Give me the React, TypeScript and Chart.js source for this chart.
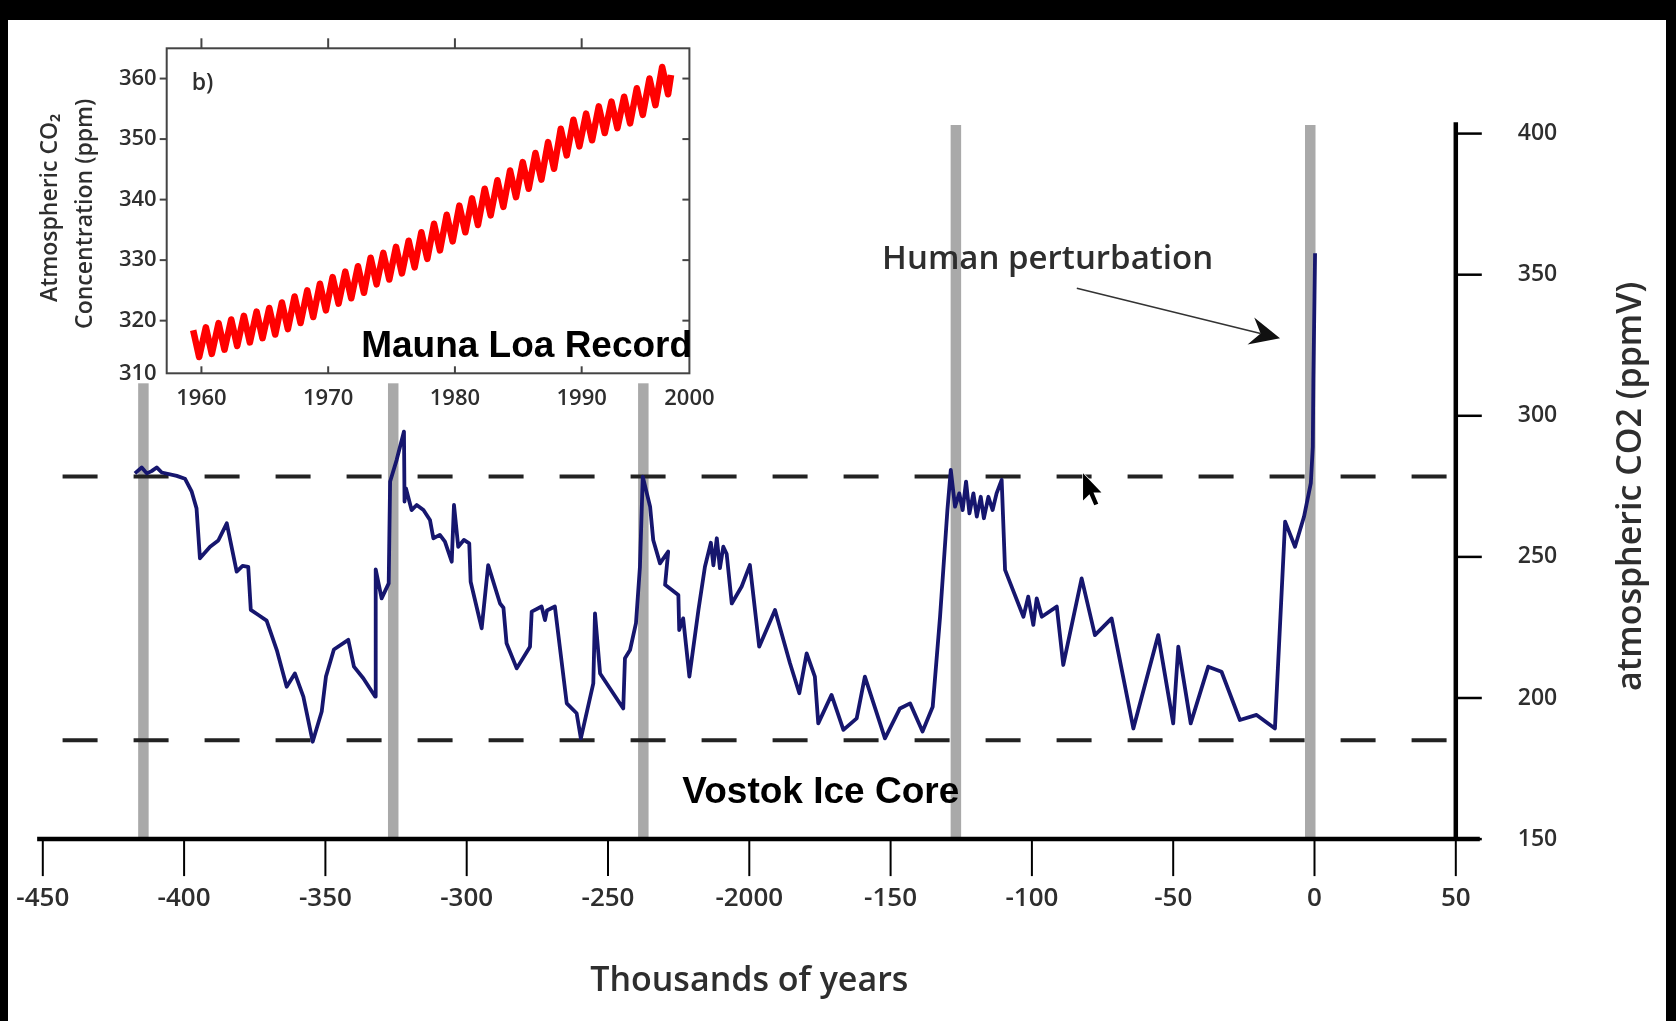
import React, { useEffect, useRef } from 'react';
import { Chart, registerables } from 'chart.js';

Chart.register(...registerables);

const FONT = '"Open Sans", "DejaVu Sans", sans-serif';
const BOLD_FONT = '"Liberation Sans", Arial, sans-serif';

// ---- Vostok ice core record: age (thousands of years) and CO2 (ppmV) ----
const vostokAgeKyr = [
  -417.4, -415.0, -413.2, -411.5, -409.7, -407.9, -402.6, -399.7, -397.3, -395.6,
  -394.4, -390.8, -387.9, -384.9, -381.4, -379.3, -377.3, -376.4, -373.7, -370.8,
  -367.2, -363.7, -360.8, -357.8, -354.5, -351.3, -349.8, -347.0, -341.9, -339.9,
  -336.6, -332.4, -332.2, -330.1, -327.6, -327.1, -324.8, -322.2, -322.0, -321.5,
  -319.5, -317.7, -315.3, -313.0, -311.8, -309.5, -307.7, -305.3, -304.5, -303.0,
  -301.0, -299.1, -298.6, -294.7, -292.4, -288.2, -287.0, -285.9, -282.3, -277.6,
  -277.0, -273.5, -272.3, -271.6, -268.8, -264.6, -261.1, -259.6, -255.2, -254.6,
  -252.8, -244.6, -244.0, -242.2, -240.1, -238.7, -237.7, -235.1, -234.0, -231.6,
  -228.7, -229.8, -225.1, -224.8, -223.4, -221.2, -218.0, -215.7, -213.6, -212.7,
  -211.5, -210.4, -209.2, -208.0, -206.2, -202.7, -199.8, -196.5, -190.9, -185.6,
  -182.3, -179.7, -176.8, -175.6, -170.9, -166.7, -162.0, -159.1, -152.0, -146.7,
  -143.1, -138.7, -135.1, -132.5, -129.9, -128.7, -127.2, -125.7, -124.5, -123.3,
  -122.1, -120.7, -119.5, -118.1, -117.0, -115.4, -113.9, -112.5, -110.7, -109.5,
  -103.0, -101.3, -99.5, -98.3, -96.5, -91.2, -88.9, -82.4, -77.7, -71.8,
  -64.1, -55.3, -50.0, -48.2, -43.8, -37.6, -32.9, -26.4, -20.5, -14.0,
  -10.4, -6.9, -3.7, -1.3, -0.6, -0.4, 0.0, 0.2,
];
const vostokCO2 = [
  279.6, 281.7, 279.6, 280.4, 281.7, 279.9, 278.7, 277.7, 273.1, 267.2,
  249.5, 253.6, 255.8, 261.9, 244.8, 246.8, 246.5, 231.2, 229.4, 227.4,
  217.0, 204.0, 208.7, 200.5, 184.5, 195.2, 207.6, 217.2, 220.6, 211.1,
  207.0, 200.5, 245.6, 235.3, 240.6, 276.7, 284.3, 294.4, 269.6, 274.3,
  266.6, 268.4, 266.6, 263.1, 256.6, 257.8, 255.4, 248.3, 268.4, 253.6,
  256.0, 254.8, 241.2, 224.7, 247.1, 233.5, 232.0, 219.4, 210.5, 218.2,
  230.6, 232.4, 227.6, 231.0, 232.4, 198.1, 194.6, 185.7, 205.2, 230.0,
  208.7, 196.3, 214.1, 217.0, 226.5, 246.5, 278.4, 267.8, 256.0, 247.7,
  251.9, 240.1, 236.5, 224.1, 228.2, 207.6, 231.2, 246.5, 255.0, 247.0,
  256.6, 246.0, 253.6, 251.0, 233.5, 239.5, 247.1, 218.2, 231.2, 212.3,
  201.7, 215.8, 207.6, 191.0, 201.1, 188.7, 192.8, 207.6, 185.7, 196.3,
  198.1, 188.1, 196.9, 228.8, 266.6, 280.8, 267.8, 272.5, 266.6, 276.7,
  265.4, 272.5, 264.3, 271.3, 263.7, 271.3, 266.6, 272.5, 277.3, 245.4,
  228.8, 235.9, 225.9, 235.3, 228.8, 232.4, 211.7, 242.4, 222.3, 228.2,
  189.2, 222.3, 191.0, 218.2, 191.0, 211.1, 209.3, 192.2, 194.0, 189.2,
  262.5, 253.6, 264.3, 276.1, 289.1, 312.7, 342.2, 357.6,
];

// Grey bars (interglacial peaks), thousands of years
const terminationAgeKyr = [-414.4, -326.0, -237.5, -126.9, -1.5];
const barRange = [150, 403];

// Dashed reference levels (ppmV) and their extent (kyr)
const dashedLevels = [278.5, 185];
const dashedExtent = [-443, 50];

// Main axes
const xTickValues = [-450, -400, -350, -300, -250, -200, -150, -100, -50, 0, 50];
const xTickLabels = ['-450', '-400', '-350', '-300', '-250', '-2000', '-150', '-100', '-50', '0', '50'];
const yTickValues = [150, 200, 250, 300, 350, 400];

// ---- Mauna Loa inset: seasonal highs and lows per year (ppm) ----
const mlYears = [
  1959, 1960, 1961, 1962, 1963, 1964, 1965, 1966, 1967, 1968,
  1969, 1970, 1971, 1972, 1973, 1974, 1975, 1976, 1977, 1978,
  1979, 1980, 1981, 1982, 1983, 1984, 1985, 1986, 1987, 1988,
  1989, 1990, 1991, 1992, 1993, 1994, 1995, 1996,
];
const mlPeaks = [
  318.4, 318.9, 319.6, 320.2, 320.8, 321.5, 322.1, 323.0, 324.0, 325.0,
  326.1, 327.2, 328.1, 329.0, 330.4, 331.2, 332.2, 333.2, 334.6, 336.0,
  337.5, 339.0, 340.2, 341.8, 343.2, 344.8, 346.2, 347.7, 349.5, 351.7,
  353.2, 354.2, 355.4, 356.2, 357.0, 358.4, 360.0, 361.9,
];
const mlTroughs = [
  314.0, 314.5, 315.2, 315.8, 316.4, 317.1, 317.7, 318.6, 319.6, 320.6,
  321.7, 322.8, 323.7, 324.6, 326.0, 326.8, 327.8, 328.8, 330.2, 331.6,
  333.1, 334.6, 335.8, 337.4, 338.8, 340.4, 341.8, 343.3, 345.1, 347.3,
  348.8, 349.8, 351.0, 351.8, 352.6, 354.0, 355.6, 357.4,
];
const mlLast = [1997.05, 360.6];

const insetXRange = [1957.26, 1998.5];
const insetYRange = [311.3, 365];
const insetXTicks = [1960, 1970, 1980, 1990];
const insetXLabelValues = [1960, 1970, 1980, 1990, 1998.5];
const insetXLabels = ['1960', '1970', '1980', '1990', '2000'];
const insetYTicks = [320, 330, 340, 350, 360];
const insetYLabelValues = [311.3, 320, 330, 340, 350, 360];
const insetYLabels = ['310', '320', '330', '340', '350', '360'];

// Annotation anchors in data units
const humanLabelAt = [-153, 355.2];
const humanArrowFrom = [-84.1, 345.2];
const humanArrowTo = [-12.2, 327.5];
const vostokLabelAt = [-223.7, 166.3];
const cursorAt = [-81.9, 279.6];
const maunaLabelAt = [1972.6, 315.6];

function seg(ctx: CanvasRenderingContext2D, x1: number, y1: number, x2: number, y2: number) {
  ctx.beginPath();
  ctx.moveTo(x1, y1);
  ctx.lineTo(x2, y2);
  ctx.stroke();
}

const TEXT = '#2e2e2e';

const mainDecor = {
  id: 'mainDecor',
  afterDraw(chart: any) {
    const { ctx, scales } = chart;
    const X = (v: number) => scales.x.getPixelForValue(v);
    const Y = (v: number) => scales.y.getPixelForValue(v);
    const y0 = Y(150);
    ctx.save();
    ctx.lineCap = 'butt';
    ctx.strokeStyle = '#000';
    // x axis
    ctx.lineWidth = 4.5;
    seg(ctx, X(-452), y0, X(58.5), y0);
    ctx.lineWidth = 2;
    xTickValues.forEach((v) => seg(ctx, X(v), y0, X(v), y0 + 37));
    ctx.fillStyle = TEXT;
    ctx.font = `600 26px ${FONT}`;
    ctx.textAlign = 'center';
    ctx.textBaseline = 'middle';
    xTickValues.forEach((v, i) => ctx.fillText(xTickLabels[i], X(v), y0 + 59));
    // y axis at x = 50
    const ax = X(50);
    ctx.lineWidth = 4.5;
    seg(ctx, ax, y0 + 2, ax, Y(404));
    ctx.lineWidth = 2.5;
    yTickValues.forEach((v) => seg(ctx, ax, Y(v), ax + 26, Y(v)));
    ctx.font = `600 23px ${FONT}`;
    ctx.textAlign = 'left';
    yTickValues.forEach((v) => ctx.fillText(String(v), ax + 62, Y(v)));
    // axis titles
    ctx.font = `600 34px ${FONT}`;
    ctx.textAlign = 'center';
    ctx.fillText('Thousands of years', (X(-450) + X(50)) / 2, y0 + 142);
    ctx.save();
    ctx.translate(ax + 176, (Y(150) + Y(400)) / 2);
    ctx.rotate(-Math.PI / 2);
    ctx.fillText('atmospheric CO2 (ppmV)', 0, 0);
    ctx.restore();
    // Human perturbation annotation
    ctx.font = `600 33px ${FONT}`;
    ctx.textAlign = 'left';
    ctx.fillText('Human perturbation', X(humanLabelAt[0]), Y(humanLabelAt[1]));
    const sx = X(humanArrowFrom[0]), sy = Y(humanArrowFrom[1]);
    const tx = X(humanArrowTo[0]), ty = Y(humanArrowTo[1]);
    const len = Math.hypot(tx - sx, ty - sy);
    const ux = (tx - sx) / len, uy = (ty - sy) / len;
    const nx = -uy, ny = ux;
    ctx.strokeStyle = '#333';
    ctx.lineWidth = 1.6;
    seg(ctx, sx, sy, tx - ux * 20, ty - uy * 20);
    ctx.fillStyle = '#111';
    ctx.beginPath();
    ctx.moveTo(tx, ty);
    ctx.lineTo(tx - ux * 30 + nx * 14, ty - uy * 30 + ny * 14);
    ctx.lineTo(tx - ux * 20, ty - uy * 20);
    ctx.lineTo(tx - ux * 30 - nx * 14, ty - uy * 30 - ny * 14);
    ctx.closePath();
    ctx.fill();
    // Vostok label
    ctx.font = `bold 37px ${BOLD_FONT}`;
    ctx.fillStyle = '#000';
    ctx.fillText('Vostok Ice Core', X(vostokLabelAt[0]), Y(vostokLabelAt[1]));
    // mouse pointer (present in the source screenshot)
    const cx = X(cursorAt[0]), cy = Y(cursorAt[1]);
    const s = 1.6;
    const pts = [[0, 0], [0, 17], [4, 13], [7, 20], [9.5, 19], [6.5, 12], [11.5, 12]];
    ctx.beginPath();
    pts.forEach(([px, py], i) => (i ? ctx.lineTo(cx + px * s, cy + py * s) : ctx.moveTo(cx + px * s, cy + py * s)));
    ctx.closePath();
    ctx.fillStyle = '#000';
    ctx.strokeStyle = '#fff';
    ctx.lineWidth = 1.5;
    ctx.stroke();
    ctx.fill();
    ctx.restore();
  },
};

const insetDecor = {
  id: 'insetDecor',
  beforeDraw(chart: any) {
    const { ctx, chartArea } = chart;
    ctx.save();
    ctx.fillStyle = '#fff';
    ctx.fillRect(8, 20, chartArea.right, chartArea.bottom + 10 - 20);
    ctx.restore();
  },
  afterDraw(chart: any) {
    const { ctx, chartArea: a, scales } = chart;
    const X = (v: number) => scales.x.getPixelForValue(v);
    const Y = (v: number) => scales.y.getPixelForValue(v);
    ctx.save();
    ctx.strokeStyle = '#444';
    ctx.lineWidth = 2;
    ctx.strokeRect(a.left, a.top, a.right - a.left, a.bottom - a.top);
    insetXTicks.forEach((v) => {
      seg(ctx, X(v), a.top, X(v), a.top - 10);
      seg(ctx, X(v), a.bottom, X(v), a.bottom - 7);
    });
    insetYTicks.forEach((v) => {
      seg(ctx, a.left - 7, Y(v), a.left, Y(v));
      seg(ctx, a.right, Y(v), a.right - 7, Y(v));
    });
    ctx.fillStyle = TEXT;
    ctx.font = `600 22px ${FONT}`;
    ctx.textBaseline = 'middle';
    ctx.textAlign = 'center';
    insetXLabelValues.forEach((v, i) => ctx.fillText(insetXLabels[i], X(v), a.bottom + 25));
    ctx.textAlign = 'right';
    insetYLabelValues.forEach((v, i) => ctx.fillText(insetYLabels[i], a.left - 10, Y(v)));
    ctx.textAlign = 'left';
    ctx.font = `600 23px ${FONT}`;
    ctx.fillText('b)', a.left + 25, a.top + 35);
    ctx.textAlign = 'center';
    ctx.font = `600 23px ${FONT}`;
    const my = (a.top + a.bottom) / 2 - 3;
    ctx.save();
    ctx.translate(a.left - 116, my);
    ctx.rotate(-Math.PI / 2);
    ctx.fillText('Atmospheric CO\u2082', 0, 0);
    ctx.restore();
    ctx.save();
    ctx.translate(a.left - 81, my + 6);
    ctx.rotate(-Math.PI / 2);
    ctx.fillText('Concentration (ppm)', 0, 0);
    ctx.restore();
    ctx.font = `bold 37px ${BOLD_FONT}`;
    ctx.fillStyle = '#000';
    ctx.textAlign = 'left';
    ctx.fillText('Mauna Loa Record', X(maunaLabelAt[0]), Y(maunaLabelAt[1]));
    ctx.restore();
  },
};

export default function App() {
  const mainRef = useRef<HTMLCanvasElement>(null);
  const insetRef = useRef<HTMLCanvasElement>(null);

  useEffect(() => {
    const vostokPoints = vostokAgeKyr.map((x, i) => ({ x, y: vostokCO2[i] }));
    const dashedSets = dashedLevels.map((lvl) => ({
      data: [{ x: dashedExtent[0], y: lvl }, { x: dashedExtent[1], y: lvl }],
      borderColor: '#222',
      borderWidth: 4,
      borderDash: [35, 36],
      pointRadius: 0,
      order: 1,
    }));
    const barSets = terminationAgeKyr.map((t) => ({
      data: [{ x: t, y: barRange[0] }, { x: t, y: barRange[1] }],
      borderColor: '#a9a9a9',
      borderWidth: 10.5,
      pointRadius: 0,
      order: 2,
    }));

    const main = new Chart(mainRef.current as HTMLCanvasElement, {
      type: 'line',
      data: {
        datasets: [
          {
            data: vostokPoints,
            borderColor: '#16166e',
            borderWidth: 3.8,
            pointRadius: 0,
            tension: 0,
            borderJoinStyle: 'round',
            order: 0,
          } as any,
          ...dashedSets,
          ...barSets,
        ],
      },
      options: {
        responsive: false,
        maintainAspectRatio: false,
        devicePixelRatio: 1,
        animation: false,
        events: [],
        layout: { padding: { left: 42.8, right: 220.2, top: 122.3, bottom: 181.9 } },
        scales: {
          x: { type: 'linear', min: -450, max: 50, display: false },
          y: { type: 'linear', min: 150, max: 404, display: false },
        },
        plugins: { legend: { display: false }, tooltip: { enabled: false } },
      },
      plugins: [mainDecor],
    } as any);

    const mlPoints: { x: number; y: number }[] = [];
    mlYears.forEach((yr, i) => {
      mlPoints.push({ x: yr + 0.35, y: mlPeaks[i] });
      mlPoints.push({ x: yr + 0.82, y: mlTroughs[i] });
    });
    mlPoints.push({ x: mlLast[0], y: mlLast[1] });

    const inset = new Chart(insetRef.current as HTMLCanvasElement, {
      type: 'line',
      data: {
        datasets: [
          {
            data: mlPoints,
            borderColor: '#ff0000',
            borderWidth: 6.5,
            pointRadius: 0,
            tension: 0,
            borderJoinStyle: 'round',
          } as any,
        ],
      },
      options: {
        responsive: false,
        maintainAspectRatio: false,
        devicePixelRatio: 1,
        animation: false,
        events: [],
        layout: { padding: { left: 166.7, right: 30.6, top: 48.3, bottom: 56.7 } },
        scales: {
          x: { type: 'linear', min: insetXRange[0], max: insetXRange[1], display: false },
          y: { type: 'linear', min: insetYRange[0], max: insetYRange[1], display: false },
        },
        plugins: { legend: { display: false }, tooltip: { enabled: false } },
      },
      plugins: [insetDecor],
    } as any);

    return () => {
      main.destroy();
      inset.destroy();
    };
  }, []);

  return (
    <div style={{ position: 'fixed', left: 0, top: 0, width: 1676, height: 1021, background: '#000', overflow: 'hidden' }}>
      <div style={{ position: 'absolute', left: 8, top: 20, width: 1658, height: 1001, background: '#fff' }} />
      <canvas ref={mainRef} width={1676} height={1021} style={{ position: 'absolute', left: 0, top: 0, width: 1676, height: 1021 }} />
      <canvas ref={insetRef} width={720} height={430} style={{ position: 'absolute', left: 0, top: 0, width: 720, height: 430 }} />
    </div>
  );
}
